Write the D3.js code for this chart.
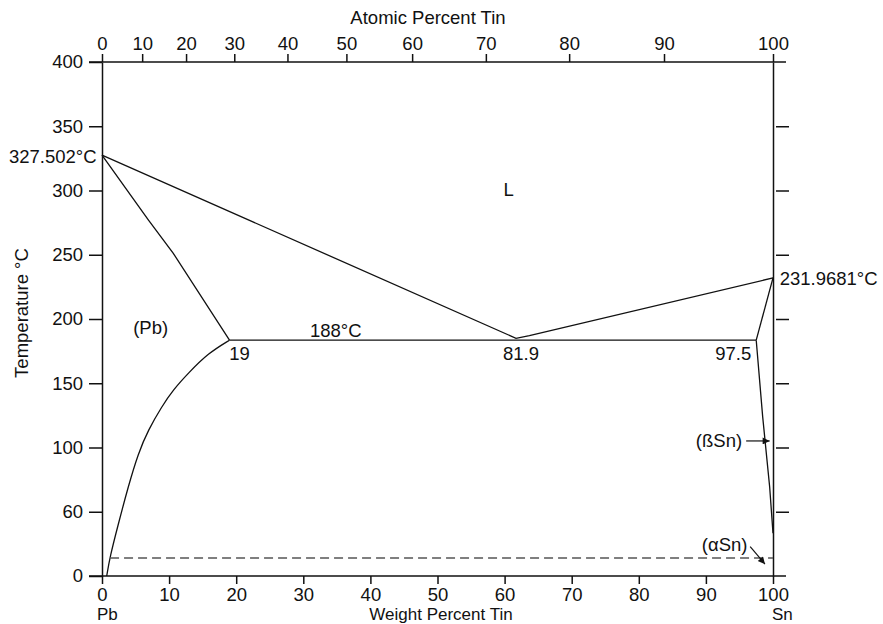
<html>
<head>
<meta charset="utf-8">
<script src="https://d3js.org/d3.v7.min.js"></script>
<style>
body {
	margin:0;
	background:#fff;
}
svg {
	font-family:"Liberation Sans", Arial, sans-serif;
}
.axis path,
.axis line {
	stroke:#111;
	stroke-width:1.5;
}
.axis text,
.lbl {
	font-size:18.5px;
	fill:#111;
}
.foot {
	font-size:17px;
}
.curve {
	fill:none;
	stroke:#111;
	stroke-width:1.3;
}
.dash {
	fill:none;
	stroke:#555;
	stroke-width:1.3;
	stroke-dasharray:9,5;
}
</style>
</head>
<body>
<div id="chart"></div>
<script>

// axis ticks (the 50 degree line is printed "60" on the original plate)
var tempTicks = [0, 50, 100, 150, 200, 250, 300, 350, 400];
var tempLabels = ["0", "60", "100", "150", "200", "250", "300", "350", "400"];
var rightTicks = [50, 100, 150, 200, 250, 300, 350];
var wtTicks = [0, 10, 20, 30, 40, 50, 60, 70, 80, 90, 100];
var atTicks = [0, 10, 20, 30, 40, 50, 60, 70, 80, 90, 100];
var massSn = 118.71, massPb = 207.2;

// phase boundaries, [weight % Sn, temperature C]
var liquidus = [[0, 327.502], [61.7, 185], [63.7, 187], [100, 231.9681]];
var solidusPb = [[0, 327.502], [6.9, 277.2], [10.6, 251.3], [19, 183.5]];
var solvusPb = [[0.7, 0], [1.19, 15], [2.33, 38.4], [3.9, 69.5], [5.4, 95.5], [6.9, 113.7], [8.9, 131.8], [10.6, 144.8], [12.85, 157.8], [15.83, 173.4], [19, 183.5]];
var eutectic = [[19, 183.5], [97.5, 183.5]];
var solidusSn = [[97.5, 183.5], [100, 231.9681]];
var solvusSn = [[97.5, 183.5], [98.46, 124], [99.5, 69.5], [100, 33.3]];
var alphaBeta = [[1.2, 14], [100, 14]];

// text inside the plot: [text, wt, temp, anchor]
var labels = [
	["327.502\u00b0C", -0.8, 321.4, "end"],
	["L", 60.6, 296, "middle"],
	["(Pb)", 4.65, 188, "start"],
	["188\u00b0C", 31.0, 186.3, "start"],
	["19", 18.95, 168.2, "start"],
	["81.9", 59.75, 168.2, "start"],
	["97.5", 91.4, 168.2, "start"],
	["231.9681\u00b0C", 101.0, 226.6, "start"],
	["(\u00dfSn)", 88.5, 100.7, "start"],
	["(\u03b1Sn)", 89.4, 19.7, "start"]
];
var arrows = [
	[[96.0, 105.1], [99.5, 105.1]],
	[[96.6, 22.8], [98.8, 9.3]]
];

function atToWt(a) {
	return 100 * a * massSn / (a * massSn + (100 - a) * massPb);
}

var margin = {top:62, right:110, bottom:48, left:102},
	width = 883 - margin.left - margin.right,
	height = 624 - margin.top - margin.bottom;

var x = d3.scaleLinear().domain([0, 100]).range([0, width]),
	y = d3.scaleLinear().domain([0, 400]).range([height, 0]);

var svg = d3.select("#chart").append("svg")
	.attr("width", 883)
	.attr("height", 624);

var defs = svg.append("defs");
defs.append("marker")
	.attr("id", "head")
	.attr("viewBox", "0 0 10 10")
	.attr("refX", 10)
	.attr("refY", 5)
	.attr("markerWidth", 10)
	.attr("markerHeight", 7)
	.attr("markerUnits", "userSpaceOnUse")
	.attr("orient", "auto")
  .append("path")
	.attr("d", "M0,0L10,5L0,10z")
	.attr("fill", "#111");

var g = svg.append("g")
	.attr("transform", "translate(" + margin.left + "," + margin.top + ")");

// left axis
g.append("g")
	.attr("class", "axis")
	.call(d3.axisLeft(y).tickValues(tempTicks)
		.tickFormat(function(d, i) { return tempLabels[i]; })
		.tickSize(13).tickPadding(6).tickSizeOuter(0));

// right axis, ticks stand off the line
var ra = g.append("g")
	.attr("class", "axis")
	.attr("transform", "translate(" + width + ",0)")
	.call(d3.axisRight(y).tickValues(rightTicks).tickFormat("")
		.tickSize(16).tickSizeOuter(0));
ra.selectAll(".tick line").attr("x1", 3);

// bottom axis
var ba = g.append("g")
	.attr("class", "axis")
	.attr("transform", "translate(0," + height + ")")
	.call(d3.axisBottom(x).tickValues(wtTicks)
		.tickSize(8).tickPadding(4).tickSizeOuter(0));
ba.select(".domain").attr("d", "M-13,0H" + (width + 13));

// top axis in atomic percent
var ta = g.append("g")
	.attr("class", "axis")
	.call(d3.axisTop(x).tickValues(atTicks.map(atToWt))
		.tickFormat(function(d, i) { return atTicks[i]; })
		.tickSize(8).tickPadding(4).tickSizeOuter(0));
ta.select(".domain").attr("d", "M-13,0H" + (width + 13));

// axis titles
g.append("text")
	.attr("class", "lbl")
	.attr("x", 326)
	.attr("y", -38)
	.attr("text-anchor", "middle")
	.text("Atomic Percent Tin");
g.append("text")
	.attr("class", "lbl foot")
	.attr("x", 339)
	.attr("y", height + 43.5)
	.attr("text-anchor", "middle")
	.text("Weight Percent Tin");
g.append("text")
	.attr("class", "lbl foot")
	.attr("x", x(0) - 5)
	.attr("y", height + 43.5)
	.text("Pb");
g.append("text")
	.attr("class", "lbl foot")
	.attr("x", x(100) - 1)
	.attr("y", height + 43.5)
	.text("Sn");
g.append("text")
	.attr("class", "lbl")
	.attr("transform", "rotate(-90)")
	.attr("x", -(313 - margin.top))
	.attr("y", 28 - margin.left)
	.attr("text-anchor", "middle")
	.text("Temperature \u00b0C");

// boundaries
var line = d3.line()
	.x(function(d) { return x(d[0]); })
	.y(function(d) { return y(d[1]); });
var smooth = d3.line()
	.x(function(d) { return x(d[0]); })
	.y(function(d) { return y(d[1]); })
	.curve(d3.curveBasis);

[liquidus, solidusPb, eutectic, solidusSn].forEach(function(p) {
	g.append("path").attr("class", "curve").attr("d", line(p));
});
g.append("path").attr("class", "curve").attr("d", smooth(solvusPb));
g.append("path").attr("class", "curve").attr("d", line(solvusSn));
g.append("path").attr("class", "dash").attr("d", line(alphaBeta));

// labels
g.selectAll(".plotLbl")
	.data(labels)
	.enter()
	.append("text")
	.attr("class", "lbl plotLbl")
	.attr("x", function(d) { return x(d[1]); })
	.attr("y", function(d) { return y(d[2]); })
	.attr("text-anchor", function(d) { return d[3]; })
	.text(function(d) { return d[0]; });

g.selectAll(".arrow")
	.data(arrows)
	.enter()
	.append("path")
	.attr("class", "arrow")
	.attr("d", line)
	.attr("stroke", "#111")
	.attr("stroke-width", 1.2)
	.attr("fill", "none")
	.attr("marker-end", "url(#head)");

</script>
</body>
</html>
